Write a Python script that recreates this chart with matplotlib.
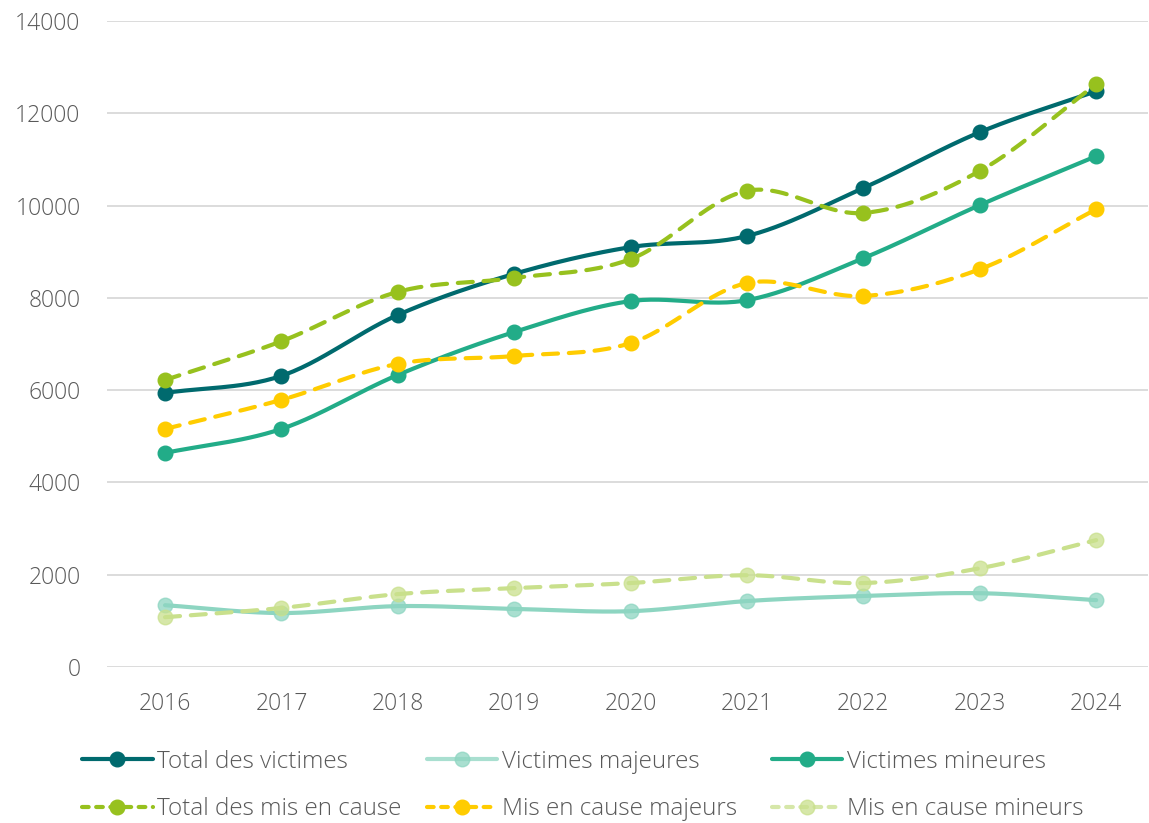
import numpy as np
import matplotlib.pyplot as plt
from matplotlib.lines import Line2D

years = ['2016', '2017', '2018', '2019', '2020', '2021', '2022', '2023', '2024']

total_victimes = [5940, 6310, 7630, 8520, 9100, 9340, 10380, 11590, 12480]
victimes_majeures = [1340, 1170, 1320, 1260, 1210, 1430, 1540, 1600, 1450]
victimes_mineures = [4640, 5160, 6330, 7260, 7930, 7950, 8860, 10010, 11070]
total_mis_en_cause = [6220, 7060, 8130, 8430, 8840, 10320, 9840, 10750, 12630]
mis_en_cause_majeurs = [5160, 5790, 6570, 6740, 7020, 8320, 8040, 8620, 9920]
mis_en_cause_mineurs = [1080, 1280, 1580, 1710, 1820, 1990, 1820, 2140, 2750]

plt.rcParams['font.family'] = ['Open Sans', 'DejaVu Sans']
TEXT = '#595959'


def smooth(x, y, n=30):
    # Catmull-Rom curve through the points, like a spreadsheet "smoothed line"
    x = np.asarray(x, float)
    y = np.asarray(y, float)
    px = np.concatenate([[2 * x[0] - x[1]], x, [2 * x[-1] - x[-2]]])
    py = np.concatenate([[2 * y[0] - y[1]], y, [2 * y[-1] - y[-2]]])
    xs, ys = [], []
    t = np.linspace(0, 1, n)
    for i in range(1, len(px) - 2):
        for p, out in ((px, xs), (py, ys)):
            p0, p1, p2, p3 = p[i - 1], p[i], p[i + 1], p[i + 2]
            out.extend(0.5 * (2 * p1 + (-p0 + p2) * t
                              + (2 * p0 - 5 * p1 + 4 * p2 - p3) * t ** 2
                              + (-p0 + 3 * p1 - 3 * p2 + p3) * t ** 3))
    return xs, ys


styles = [
    ('Total des victimes', total_victimes, '#006A6E', '-', 1.0),
    ('Victimes majeures', victimes_majeures, '#8DD5C1', '-', 0.75),
    ('Victimes mineures', victimes_mineures, '#22AC88', '-', 1.0),
    ('Total des mis en cause', total_mis_en_cause, '#97C11E', '--', 1.0),
    ('Mis en cause majeurs', mis_en_cause_majeurs, '#FFCC00', '--', 1.0),
    ('Mis en cause mineurs', mis_en_cause_mineurs, '#C9E08C', '--', 0.75),
]

fig = plt.figure(figsize=(11.49, 8.23), dpi=100)
ax = fig.add_axes([0.093, 0.1895, 0.906, 0.785])

x = np.arange(len(years))
draw_order = [1, 5, 2, 4, 0, 3]
for k in draw_order:
    label, vals, color, ls, alpha = styles[k]
    sx, sy = smooth(x, vals)
    if ls == '--':
        ax.plot(sx, sy, color=color, lw=3, dashes=(3.6, 2.6),
                dash_capstyle='round', zorder=2 + k)
    else:
        ax.plot(sx, sy, color=color, lw=3, solid_capstyle='round', zorder=2 + k)
    ax.plot(x, vals, ls='none', marker='o', ms=10.5, color=color, alpha=alpha,
            markeredgecolor=color, zorder=3 + k)

ax.set_xlim(-0.5, 8.444)
ax.set_ylim(0, 14000)
ax.set_yticks(range(0, 14001, 2000))
ax.set_xticks(x)
ax.set_xticklabels(years)
ax.grid(axis='y', color='#D9D9D9', lw=1.3)
ax.set_axisbelow(True)
for s in ax.spines.values():
    s.set_visible(False)
ax.tick_params(length=0, labelsize=16.5, colors=TEXT)
ax.tick_params(axis='x', pad=18)
ax.tick_params(axis='y', pad=19)
for t in ax.get_xticklabels() + ax.get_yticklabels():
    t.set_fontweight('light')

# legend entries laid out on a fixed 3-column grid
col_x = [0.0714, 0.3716, 0.6719]
row_y = [0.0745, 0.017]
for i, (label, vals, color, ls, alpha) in enumerate(styles):
    if ls == '--':
        h = Line2D([], [], color=color, lw=3, dashes=(1.6, 1.8),
                   dash_capstyle='round', marker='o', ms=10.5,
                   markerfacecolor=color, markeredgecolor=color, alpha=alpha)
    else:
        h = Line2D([], [], color=color, lw=3, solid_capstyle='round',
                   marker='o', ms=10.5, markerfacecolor=color,
                   markeredgecolor=color, alpha=alpha)
    leg = fig.legend([h], [label], loc='center left',
                     bbox_to_anchor=(col_x[i % 3], row_y[i // 3]),
                     frameon=False, fontsize=17.5, handlelength=2.9,
                     handletextpad=0.2, borderpad=0, borderaxespad=0,
                     labelcolor=TEXT)
    for t in leg.get_texts():
        t.set_fontweight('light')

fig.savefig('out.png', dpi=100)
